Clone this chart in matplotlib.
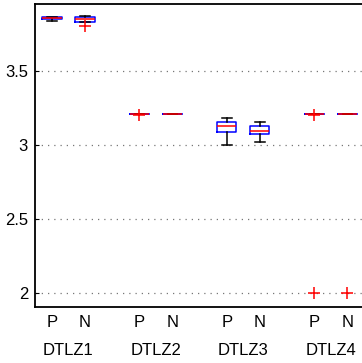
import matplotlib
matplotlib.use("Agg")
import matplotlib.pyplot as plt
from matplotlib.transforms import blended_transform_factory

plt.rcParams['font.family'] = ['Liberation Sans', 'DejaVu Sans']

groups = ["DTLZ1", "DTLZ2", "DTLZ3", "DTLZ4"]
methods = ["P", "N"]
# per box: (whislo, q1, med, q3, whishi, fliers)
whislo = [3.840, 3.828, 3.209, 3.209, 3.002, 3.018, 3.209, 3.209]
q1     = [3.852, 3.833, 3.209, 3.209, 3.090, 3.072, 3.209, 3.209]
med    = [3.857, 3.848, 3.209, 3.209, 3.130, 3.097, 3.209, 3.209]
q3     = [3.862, 3.863, 3.209, 3.209, 3.153, 3.128, 3.209, 3.209]
whishi = [3.866, 3.872, 3.209, 3.209, 3.182, 3.155, 3.209, 3.209]
fliers = [[], [3.806], [3.204], [], [], [], [3.205, 2.0], [2.0]]

positions = [1, 2, 3.65, 4.65, 6.3, 7.3, 8.95, 9.95]

stats = []
for i in range(len(positions)):
    stats.append(dict(whislo=whislo[i], q1=q1[i], med=med[i], q3=q3[i],
                      whishi=whishi[i], fliers=fliers[i]))

W, H = 362, 363
fig = plt.figure(figsize=(W/100, H/100), dpi=100)
ax = fig.add_axes([35/W, 1-307/H, (365-35)/W, (307-4)/H])

ax.bxp(stats, positions=positions, widths=0.58, showfliers=True,
       boxprops=dict(color='blue', linewidth=1.1),
       medianprops=dict(color='red', linewidth=1.1),
       whiskerprops=dict(color='black', linewidth=1.1),
       capprops=dict(color='black', linewidth=1.1),
       capwidths=0.28,
       flierprops=dict(marker='+', markeredgecolor='red', markersize=8, markeredgewidth=1.1, linestyle='none'))

ax.set_xlim(1 - (52-35)/33, 1 + (365-52)/33)
ax.set_ylim(2 - 14/148, 3.5 + 67/148)
ax.set_yticks([2, 2.5, 3, 3.5])
ax.set_yticklabels(["2", "2.5", "3", "3.5"])
ax.set_xticks(positions)
ax.set_xticklabels(methods * len(groups))
ax.tick_params(axis='both', labelsize=12, direction='in', length=3, width=0.8, colors='black')
ax.tick_params(axis='x', length=0, pad=6)
ax.tick_params(axis='y', pad=5)
ax.yaxis.grid(True, linestyle=(0, (1, 4)), color='#777777', linewidth=0.9)
ax.set_axisbelow(True)
for s in ['left', 'top', 'bottom']:
    ax.spines[s].set_linewidth(1.3)
ax.spines['right'].set_visible(False)

trans = blended_transform_factory(ax.transData, ax.transAxes)
for g, name in enumerate(groups):
    cx = (positions[2*g] + positions[2*g+1]) / 2
    ax.text(cx, -0.145, name, transform=trans, ha='center', va='center', fontsize=12)

fig.savefig("out.png", dpi=100)
